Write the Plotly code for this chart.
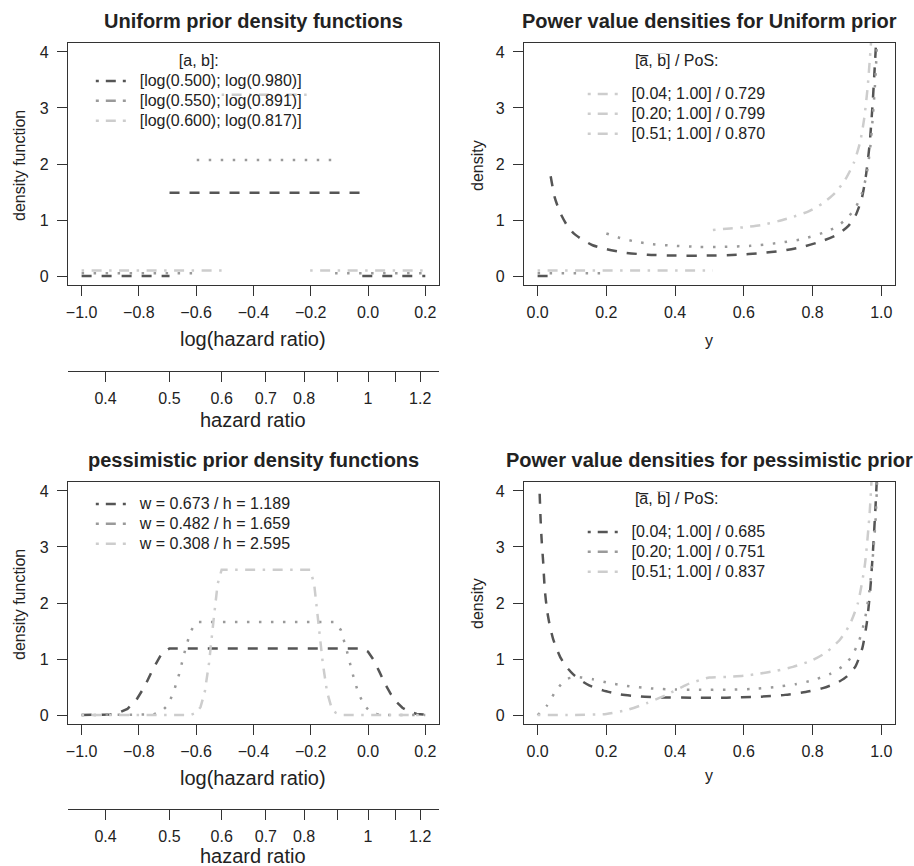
import math
import plotly.graph_objects as go

W, H = 914, 866
FONT = "Liberation Sans, Arial, Helvetica, sans-serif"
TXT = "#222222"
DARK, MID, LIGHT = "#555555", "#9a9a9a", "#cdcdcd"
COLORS = [DARK, MID, LIGHT]
DASHES = ["10px,10px", "2.5px,9.5px", "2.5px,7.5px,10px,7.5px"]
LEG_DASH = "3px,7px,10px,7px"
LW = 2.5

# ---------------- data ----------------
# Panel A: uniform priors on log(hazard ratio)
uni_labels = ["[log(0.500); log(0.980)]", "[log(0.550); log(0.891)]", "[log(0.600); log(0.817)]"]
uni_a = [-0.693, -0.598, -0.511]
uni_b = [-0.020, -0.115, -0.202]
uni_h = [1.486, 2.073, 3.236]
uni_base = [0.0, 0.05, 0.10]
uni_xmin, uni_xmax = -1.0, 0.2

# Panel B: power value densities, uniform prior
pu_labels = ["[0.04; 1.00] / 0.729", "[0.20; 1.00] / 0.799", "[0.51; 1.00] / 0.870"]
pu_lo = [0.04, 0.20, 0.51]
pu_base = [0.0, 0.05, 0.10]
pu1_x = [0.038, 0.05, 0.065, 0.084, 0.105, 0.13, 0.16, 0.20, 0.25, 0.32, 0.40, 0.50, 0.58, 0.65, 0.71,
         0.77, 0.83, 0.875, 0.905, 0.925, 0.943, 0.955, 0.966, 0.975, 0.982, 0.988]
pu1_y = [1.78, 1.40, 1.14, 0.92, 0.76, 0.65, 0.55, 0.48, 0.42, 0.38, 0.365, 0.365, 0.38, 0.41, 0.45,
         0.52, 0.63, 0.75, 0.90, 1.08, 1.38, 1.78, 2.35, 3.10, 3.85, 4.5]
pu2_x = [0.20, 0.24, 0.28, 0.33, 0.40, 0.47, 0.54, 0.62, 0.70, 0.77, 0.83, 0.87, 0.90, 0.925,
         0.945, 0.958, 0.968, 0.976, 0.983, 0.99]
pu2_y = [0.76, 0.68, 0.62, 0.57, 0.54, 0.52, 0.52, 0.54, 0.59, 0.66, 0.77, 0.88, 1.03, 1.22,
         1.50, 1.84, 2.30, 2.90, 3.55, 4.5]
pu3_x = [0.51, 0.56, 0.60, 0.65, 0.70, 0.745, 0.79, 0.83, 0.865, 0.895, 0.92, 0.938, 0.95, 0.96,
         0.967, 0.975]
pu3_y = [0.82, 0.85, 0.87, 0.91, 0.98, 1.06, 1.16, 1.30, 1.48, 1.72, 2.02, 2.38, 2.80, 3.35,
         3.90, 4.6]

# Panel C: pessimistic priors on log(hazard ratio)
pes_labels = ["w = 0.673 / h = 1.189", "w = 0.482 / h = 1.659", "w = 0.308 / h = 2.595"]
pes1_x = [-1.0, -0.95, -0.90, -0.87, -0.84, -0.81, -0.78, -0.75, -0.72, -0.693, -0.4, -0.02,
          0.0, 0.02, 0.04, 0.06, 0.08, 0.10, 0.12, 0.14, 0.17, 0.2]
pes1_y = [0.0, 0.0, 0.01, 0.04, 0.11, 0.26, 0.51, 0.83, 1.10, 1.189, 1.189, 1.189,
          1.13, 0.98, 0.77, 0.55, 0.37, 0.23, 0.13, 0.07, 0.02, 0.005]
pes2_x = [-1.0, -0.78, -0.75, -0.72, -0.70, -0.68, -0.66, -0.64, -0.62, -0.598, -0.35, -0.115,
          -0.095, -0.075, -0.055, -0.035, -0.015, 0.005, 0.03, 0.06, 0.2]
pes2_y = [0.0, 0.0, 0.01, 0.07, 0.17, 0.39, 0.72, 1.13, 1.49, 1.659, 1.659, 1.659,
          1.52, 1.17, 0.76, 0.41, 0.19, 0.07, 0.02, 0.0, 0.0]
pes3_x = [-1.0, -0.62, -0.60, -0.585, -0.57, -0.555, -0.54, -0.525, -0.511, -0.35, -0.202,
          -0.188, -0.173, -0.158, -0.143, -0.128, -0.113, -0.093, 0.2]
pes3_y = [0.0, 0.0, 0.04, 0.14, 0.41, 0.93, 1.66, 2.34, 2.595, 2.595, 2.595,
          2.34, 1.66, 0.93, 0.41, 0.14, 0.04, 0.0, 0.0]

# Panel D: power value densities, pessimistic prior
pp_labels = ["[0.04; 1.00] / 0.685", "[0.20; 1.00] / 0.751", "[0.51; 1.00] / 0.837"]
pp1_x = [0.006, 0.009, 0.012, 0.016, 0.021, 0.028, 0.036, 0.045, 0.055, 0.068, 0.084, 0.103, 0.123,
         0.15, 0.19, 0.24, 0.30, 0.36, 0.45, 0.55, 0.64, 0.72, 0.78, 0.83, 0.87, 0.90, 0.925,
         0.945, 0.958, 0.968, 0.976, 0.983, 0.99]
pp1_y = [3.95, 3.45, 3.10, 2.75, 2.23, 1.85, 1.58, 1.36, 1.19, 1.01, 0.86, 0.73, 0.63,
         0.53, 0.44, 0.37, 0.33, 0.315, 0.31, 0.31, 0.325, 0.36, 0.41, 0.48, 0.57, 0.69, 0.87,
         1.20, 1.65, 2.25, 2.95, 3.70, 4.6]
pp2_x = [0.0, 0.026, 0.055, 0.084, 0.113, 0.16, 0.21, 0.26, 0.33, 0.40, 0.47, 0.55, 0.62, 0.69,
         0.75, 0.80, 0.85, 0.885, 0.912, 0.935, 0.952, 0.965, 0.975, 0.983, 0.99]
pp2_y = [0.0, 0.16, 0.45, 0.64, 0.68, 0.64, 0.57, 0.52, 0.475, 0.455, 0.45, 0.45, 0.465, 0.50,
         0.55, 0.62, 0.73, 0.86, 1.03, 1.32, 1.70, 2.20, 2.80, 3.45, 4.5]
pp3_x = [0.0, 0.10, 0.20, 0.26, 0.317, 0.375, 0.433, 0.47, 0.50, 0.55, 0.60, 0.646, 0.695,
         0.743, 0.80, 0.84, 0.879, 0.908, 0.932, 0.952, 0.966, 0.975]
pp3_y = [0.0, 0.0, 0.02, 0.09, 0.21, 0.36, 0.54, 0.62, 0.67, 0.68, 0.70, 0.74, 0.79,
         0.86, 0.98, 1.12, 1.34, 1.61, 2.00, 2.67, 3.60, 4.6]

hr_ticks = [0.4, 0.5, 0.6, 0.7, 0.8, 0.9, 1.0, 1.1, 1.2]
hr_ticktext = ["0.4", "0.5", "0.6", "0.7", "0.8", "", "1", "", "1.2"]
lhr_ticks = [-1.0, -0.8, -0.6, -0.4, -0.2, 0.0, 0.2]
y01_ticks = [0.0, 0.2, 0.4, 0.6, 0.8, 1.0]
dens_ticks = [0, 1, 2, 3, 4]

# ---------------- geometry helpers ----------------
def px_x(p):
    return p / W

def px_y(p):
    return 1 - p / H

def minus(v):
    return f"{v:.1f}".replace("-", "\u2212")

LX = [px_x(66), px_x(438)]
RX = [px_x(523), px_x(895)]
TY = [px_y(285), px_y(43)]
BY = [px_y(724), px_y(482)]
YR = [-0.16, 4.16]
LHR = [-1.048, 0.248]
U01 = [-0.04, 1.04]

fig = go.Figure()

def add_line(x, y, i, xa, ya, spline=False):
    fig.add_trace(go.Scatter(
        x=x, y=y, mode="lines", xaxis=xa, yaxis=ya, showlegend=False, hoverinfo="skip",
        line=dict(color=COLORS[i], width=LW, dash=DASHES[i],
                  shape="spline" if spline else "linear", smoothing=0.6)))

PAD = "\u00a0\u00a0"

def add_leg(label, color, xa, ya, legend):
    fig.add_trace(go.Scatter(
        x=[None], y=[None], mode="lines", xaxis=xa, yaxis=ya,
        name=f'<span style="font-size:16px">{PAD}{label}</span>', legend=legend,
        line=dict(color=color, width=LW, dash=LEG_DASH)))

# Panel A
for i in range(3):
    xs = [uni_xmin, uni_a[i], None, uni_a[i], uni_b[i], None, uni_b[i], uni_xmax]
    ys = [uni_base[i], uni_base[i], None, uni_h[i], uni_h[i], None, uni_base[i], uni_base[i]]
    add_line(xs, ys, i, "x", "y")
for i in range(3):
    add_leg(uni_labels[i], COLORS[i], "x", "y", "legend")

# Panel B
pu_curves = [(pu1_x, pu1_y), (pu2_x, pu2_y), (pu3_x, pu3_y)]
for i in range(3):
    add_line([0.0, pu_lo[i]], [pu_base[i], pu_base[i]], i, "x2", "y2")
    add_line(pu_curves[i][0], pu_curves[i][1], i, "x2", "y2", spline=True)
for i in range(3):
    add_leg(pu_labels[i], LIGHT, "x2", "y2", "legend2")

# Panel C
pes_curves = [(pes1_x, pes1_y), (pes2_x, pes2_y), (pes3_x, pes3_y)]
for i in range(3):
    add_line(pes_curves[i][0], pes_curves[i][1], i, "x3", "y3")
for i in range(3):
    add_leg(pes_labels[i], COLORS[i], "x3", "y3", "legend3")

# Panel D
pp_curves = [(pp1_x, pp1_y), (pp2_x, pp2_y), (pp3_x, pp3_y)]
for i in range(3):
    add_line(pp_curves[i][0], pp_curves[i][1], i, "x4", "y4", spline=True)
for i in range(3):
    add_leg(pp_labels[i], COLORS[i], "x4", "y4", "legend4")

# invisible traces to bind the hazard-ratio axes
fig.add_trace(go.Scatter(x=[1.0], y=[None], xaxis="x5", yaxis="y", showlegend=False, hoverinfo="skip"))
fig.add_trace(go.Scatter(x=[1.0], y=[None], xaxis="x6", yaxis="y3", showlegend=False, hoverinfo="skip"))

tickfont = dict(family=FONT, size=16, color=TXT)
common_x = dict(showline=True, mirror=True, linecolor="#333333", linewidth=1, ticks="outside",
                ticklen=10, tickwidth=1, tickcolor="#333333", showgrid=False, zeroline=False,
                tickfont=tickfont, ticklabelstandoff=3)
common_y = dict(showline=True, mirror=True, linecolor="#333333", linewidth=1, ticks="outside",
                ticklen=10, tickwidth=1, tickcolor="#333333", showgrid=False, zeroline=False,
                tickfont=tickfont, range=YR, tickvals=dens_ticks, ticklabelstandoff=5)

hr_range = [LHR[0] / math.log(10), LHR[1] / math.log(10)]
hr_axis = dict(type="log", range=hr_range, tickvals=hr_ticks, ticktext=hr_ticktext,
               showline=True, linecolor="#333333", linewidth=1, ticks="outside", ticklen=10,
               tickwidth=1, tickcolor="#333333", showgrid=False, zeroline=False,
               tickfont=tickfont, anchor="free", side="bottom", ticklabelstandoff=3)

lhr_text = [minus(v) for v in lhr_ticks]
fig.update_layout(
    width=W, height=H, margin=dict(l=0, r=0, t=0, b=0),
    paper_bgcolor="white", plot_bgcolor="white",
    font=dict(family=FONT, color=TXT),
    xaxis=dict(domain=LX, anchor="y", range=LHR, tickvals=lhr_ticks, ticktext=lhr_text, **common_x),
    yaxis=dict(domain=TY, anchor="x", **common_y),
    xaxis2=dict(domain=RX, anchor="y2", range=U01, tickvals=y01_ticks,
                ticktext=[f"{v:.1f}" for v in y01_ticks], **common_x),
    yaxis2=dict(domain=TY, anchor="x2", **common_y),
    xaxis3=dict(domain=LX, anchor="y3", range=LHR, tickvals=lhr_ticks, ticktext=lhr_text, **common_x),
    yaxis3=dict(domain=BY, anchor="x3", **common_y),
    xaxis4=dict(domain=RX, anchor="y4", range=U01, tickvals=y01_ticks,
                ticktext=[f"{v:.1f}" for v in y01_ticks], **common_x),
    yaxis4=dict(domain=BY, anchor="x4", **common_y),
    xaxis5=dict(overlaying="x", position=px_y(371), **hr_axis),
    xaxis6=dict(overlaying="x3", position=px_y(809), **hr_axis),
)

legfont = dict(family=FONT, size=13, color=TXT)
def legend_cfg(x, y, title=None, tsize=16, extra_line=False):
    d = dict(x=px_x(x), y=px_y(y), xanchor="left", yanchor="top", bgcolor="rgba(0,0,0,0)",
             borderwidth=0, font=legfont, tracegroupgap=0, itemclick=False)
    if title:
        t = f'<span style="font-size:16px">{title}</span>'
        if extra_line:
            t += "<br> "
        d["title"] = dict(text=t, side="top center", font=dict(family=FONT, size=tsize, color=TXT))
    return d

abar = "[a\u0305, b\u0305] / PoS:"
fig.update_layout(
    legend=legend_cfg(89, 40, "[a, b]:", 20),
    legend2=legend_cfg(582, 53, abar, 10, extra_line=True),
    legend3=legend_cfg(89, 489),
    legend4=legend_cfg(582, 491, abar, 10, extra_line=True),
)

def ann(text, x, y, size, bold=False, angle=0):
    fig.add_annotation(text=f"<b>{text}</b>" if bold else text, x=px_x(x), y=px_y(y),
                       xref="paper", yref="paper", showarrow=False, textangle=angle,
                       xanchor="center", yanchor="middle",
                       font=dict(family=FONT, size=size, color=TXT))

ann("Uniform prior density functions", 252, 21, 20, bold=True)
ann("Power value densities for Uniform prior", 709, 21, 20, bold=True)
ann("pessimistic prior density functions", 252, 460, 20, bold=True)
ann("Power value densities for pessimistic prior", 709, 460, 20, bold=True)
ann("log(hazard ratio)", 252, 339, 20)
ann("hazard ratio", 252, 420, 20)
ann("log(hazard ratio)", 252, 778, 20)
ann("hazard ratio", 252, 856, 20)
ann("y", 709, 340, 16)
ann("y", 709, 775, 16)
ann("density function", 17, 165, 16, angle=-90)
ann("density function", 17, 604, 16, angle=-90)
ann("density", 476, 165, 16, angle=-90)
ann("density", 476, 603, 16, angle=-90)

fig.write_html("out.html")
